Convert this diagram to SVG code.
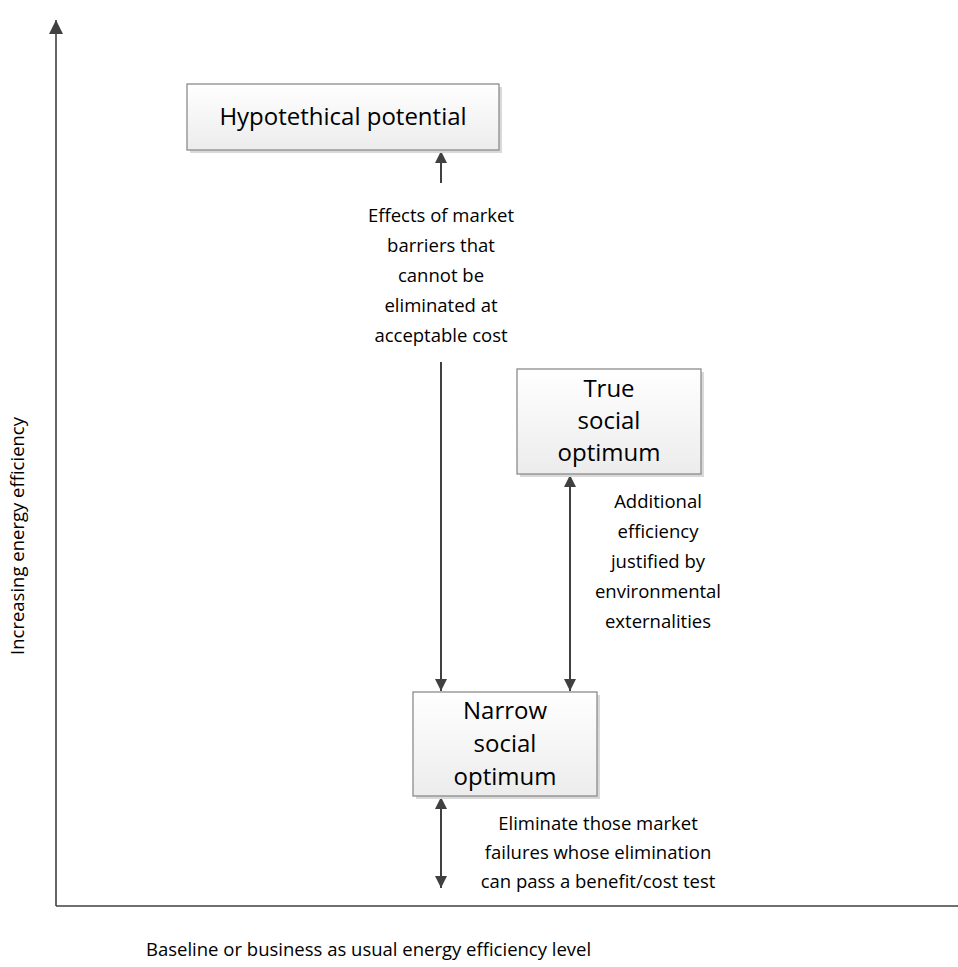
<svg xmlns="http://www.w3.org/2000/svg" width="958" height="967" viewBox="0 0 958 967">
<style>
text{font-family:"Open Sans","Noto Sans",sans-serif;fill:#000}
.box{fill:url(#g);stroke:#8c8c8c;stroke-width:1.3}
.sh{fill:#d9d9d9}
.bt{font-size:24px;text-anchor:middle}
.lt{font-size:18.5px;text-anchor:middle}
.ln{stroke:#404040;stroke-width:2;fill:none}
.ax{stroke:#404040;stroke-width:1.6;fill:none}
</style>
<defs>
<linearGradient id="g" x1="0" y1="0" x2="0" y2="1">
<stop offset="0" stop-color="#ffffff"/>
<stop offset="1" stop-color="#ececec"/>
</linearGradient>
<marker id="ah" viewBox="0 0 10 10" refX="10" refY="5" markerWidth="12" markerHeight="12" orient="auto-start-reverse" markerUnits="userSpaceOnUse">
<path d="M0,0 L10,5 L0,10 z" fill="#404040"/>
</marker>
<marker id="aa" viewBox="0 0 10 10" refX="10" refY="5" markerWidth="14" markerHeight="14" orient="auto" markerUnits="userSpaceOnUse">
<path d="M0,0 L10,5 L0,10 z" fill="#404040"/>
</marker>
</defs>
<g id="axes">
<line class="ax" x1="56" y1="906" x2="56" y2="20" marker-end="url(#aa)"/>
<line class="ax" x1="56" y1="906" x2="958" y2="906"/>
<text x="24" y="536" font-size="18.5" text-anchor="middle" transform="rotate(-90 24 536)">Increasing energy efficiency</text>
<text x="146" y="956" font-size="18.5">Baseline or business as usual energy efficiency level</text>
</g>
<g id="connectors">
<line class="ln" x1="441" y1="183" x2="441" y2="151" marker-end="url(#ah)"/>
<line class="ln" x1="441" y1="362" x2="441" y2="691" marker-end="url(#ah)"/>
<line class="ln" x1="570" y1="475" x2="570" y2="691" marker-start="url(#ah)" marker-end="url(#ah)"/>
<line class="ln" x1="441" y1="797" x2="441" y2="888" marker-start="url(#ah)" marker-end="url(#ah)"/>
<g class="lbl">
<text class="lt" x="441" y="222">Effects of market</text>
<text class="lt" x="441" y="252">barriers that</text>
<text class="lt" x="441" y="282">cannot be</text>
<text class="lt" x="441" y="312">eliminated at</text>
<text class="lt" x="441" y="342">acceptable cost</text>
</g>
<g class="lbl">
<text class="lt" x="658" y="508">Additional</text>
<text class="lt" x="658" y="538">efficiency</text>
<text class="lt" x="658" y="568">justified by</text>
<text class="lt" x="658" y="598">environmental</text>
<text class="lt" x="658" y="628">externalities</text>
</g>
<g class="lbl">
<text class="lt" x="598" y="830">Eliminate those market</text>
<text class="lt" x="598" y="859">failures whose elimination</text>
<text class="lt" x="598" y="888">can pass a benefit/cost test</text>
</g>
</g>
<g id="hypothetical">
<rect class="sh" x="190" y="87" width="312" height="66"/>
<rect class="box" x="187" y="84" width="312" height="66"/>
<text class="bt" x="343" y="125">Hypotethical potential</text>
</g>
<g id="true-social">
<rect class="sh" x="520" y="372" width="184" height="105"/>
<rect class="box" x="517" y="369" width="184" height="105"/>
<text class="bt" x="609" y="397">True</text>
<text class="bt" x="609" y="429">social</text>
<text class="bt" x="609" y="461">optimum</text>
</g>
<g id="narrow-social">
<rect class="sh" x="416" y="695" width="184" height="104"/>
<rect class="box" x="413" y="692" width="184" height="104"/>
<text class="bt" x="505" y="719">Narrow</text>
<text class="bt" x="505" y="752">social</text>
<text class="bt" x="505" y="785">optimum</text>
</g>
</svg>
